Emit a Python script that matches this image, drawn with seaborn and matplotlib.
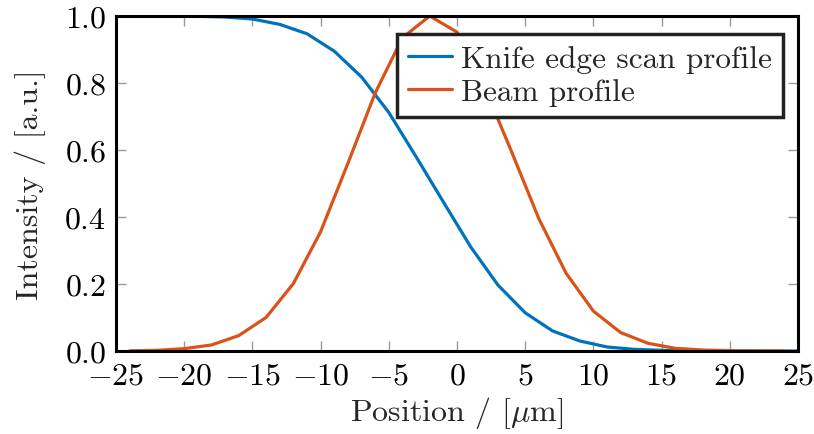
import numpy as np
import pandas as pd
import matplotlib
matplotlib.use("Agg")
import matplotlib.pyplot as plt
import seaborn as sns

# Knife edge scan samples (odd positions) and derived beam profile (even positions)
knife_x = [-25, -23, -21, -19, -17, -15, -13, -11, -9, -7, -5, -3, -1,
           1, 3, 5, 7, 9, 11, 13, 15, 17, 19, 21, 23, 25]
knife_y = [1.0, 1.0, 1.0, 0.999, 0.997, 0.991, 0.975, 0.947, 0.895, 0.818,
           0.712, 0.58, 0.445, 0.311, 0.197, 0.114, 0.060, 0.030, 0.012,
           0.005, 0.002, 0.001, 0.0, 0.0, 0.0, 0.0]

beam_x = [-24, -22, -20, -18, -16, -14, -12, -10, -8, -6, -4, -2, 0,
          2, 4, 6, 8, 10, 12, 14, 16, 18, 20, 22, 24]
beam_y = [0.0005, 0.002, 0.007, 0.018, 0.046, 0.100, 0.201, 0.356, 0.56,
          0.77, 0.935, 1.0, 0.952, 0.79, 0.595, 0.395, 0.232, 0.119, 0.055,
          0.023, 0.008, 0.003, 0.001, 0.0, 0.0]

series_names = ["Knife edge scan profile", "Beam profile"]
series_colors = ["#0072BD", "#D95319"]

df = pd.concat([
    pd.DataFrame({"x": knife_x, "y": knife_y, "series": series_names[0]}),
    pd.DataFrame({"x": beam_x, "y": beam_y, "series": series_names[1]}),
], ignore_index=True)

sns.set_style("ticks")
plt.rcParams.update({
    "font.family": ["cmr10", "DejaVu Serif"],
    "mathtext.fontset": "cm",
    "axes.formatter.use_mathtext": True,
    "font.size": 23,
    "axes.linewidth": 2.0,
    "axes.edgecolor": "black",
    "xtick.direction": "in",
    "ytick.direction": "in",
    "xtick.color": "#999999",
    "ytick.color": "#999999",
    "xtick.labelcolor": "black",
    "ytick.labelcolor": "black",
    "xtick.top": True,
    "ytick.right": True,
})

fig = plt.figure(figsize=(8.14, 4.35), dpi=100)
ax = fig.add_axes([116 / 814, 1 - 352 / 435, (798 - 116) / 814, (352 - 17) / 435])

sns.lineplot(data=df, x="x", y="y", hue="series", hue_order=series_names,
             palette=series_colors, linewidth=2.3, ax=ax, sort=False,
             estimator=None)

ax.set_xlim(-25, 25)
ax.set_ylim(0, 1)
ax.set_xticks(np.arange(-25, 26, 5))
ax.set_yticks(np.arange(0, 1.01, 0.2))
ax.yaxis.set_major_formatter(matplotlib.ticker.FormatStrFormatter(r"$\mathdefault{%.1f}$"))
ax.tick_params(axis="both", which="major", length=7, width=1.0, labelsize=23)
ax.tick_params(axis="x", pad=8)
ax.tick_params(axis="y", pad=7)
for s in ax.spines.values():
    s.set_color("black")
    s.set_linewidth(2.2)
    s.set_zorder(5)

ax.set_xlabel(r"Position / [$\mu$m]", fontsize=23, labelpad=3)
ax.set_ylabel("Intensity / [a.u.]", fontsize=23, labelpad=13)

leg = ax.legend(loc="upper right", bbox_to_anchor=(0.978, 0.946),
                borderaxespad=0, fancybox=False, framealpha=1,
                edgecolor="#222222", fontsize=22.5, handlelength=1.4,
                handletextpad=0.3, labelspacing=0.15, borderpad=0.35)
leg.get_frame().set_linewidth(2.5)
leg.set_title(None)

fig.savefig("out.png", dpi=100)
